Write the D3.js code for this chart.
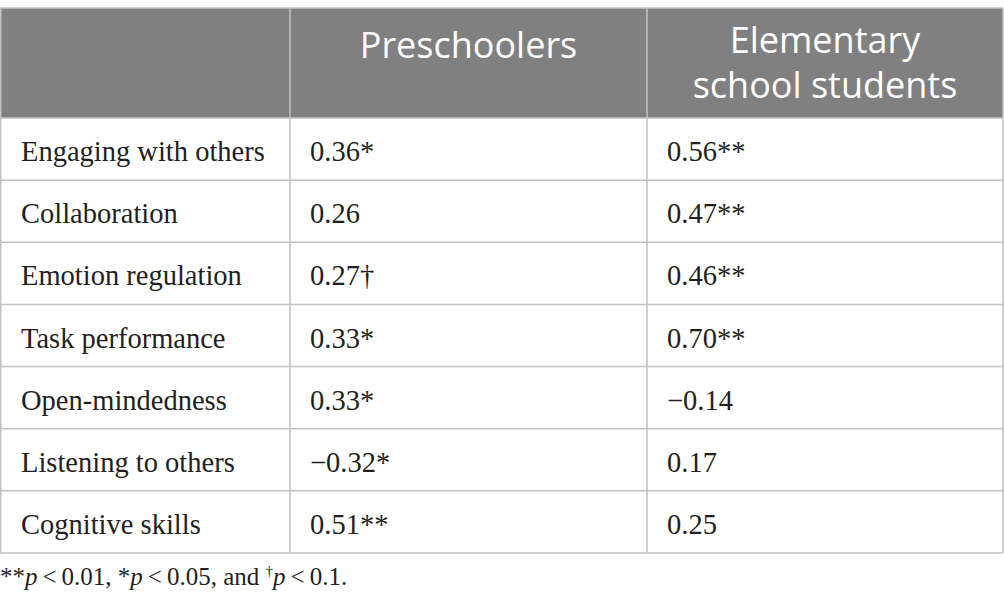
<!DOCTYPE html>
<html>
<head>
<meta charset="utf-8">
<script src="https://cdn.jsdelivr.net/npm/d3@7"></script>
<style>
  body { margin: 0; background: #fff; }
  svg { display: block; }
</style>
</head>
<body>
<div id="wrapper"></div>
<script>
// table data
const groups = ["Preschoolers", "Elementary school students"]
const headerLines = [["Preschoolers"], ["Elementary", "school students"]]
const skills = [
  "Engaging with others",
  "Collaboration",
  "Emotion regulation",
  "Task performance",
  "Open-mindedness",
  "Listening to others",
  "Cognitive skills"
]
const preschoolValues = [0.36, 0.26, 0.27, 0.33, 0.33, -0.32, 0.51]
const preschoolSig = ["*", "", "†", "*", "*", "*", "**"]
const elementaryValues = [0.56, 0.47, 0.46, 0.70, -0.14, 0.17, 0.25]
const elementarySig = ["**", "**", "**", "**", "", "", ""]

const width = 1004
const height = 612
const headerTop = 8
const headerBottom = 118
const tableBottom = 553
const colEdges = [0, 290, 647, 1003]

const fmt = d3.format(".2f")
const serif = "'Liberation Serif', 'DejaVu Serif', serif"
const sans = "'Open Sans', 'Noto Sans', sans-serif"
const borderColor = "#c2c2c2"
const textColor = "#231f20"
const cellSize = 28.5

const svg = d3.select("#wrapper")
  .append("svg")
  .attr("width", width)
  .attr("height", height)

const yScale = d3.scaleBand()
  .domain(skills)
  .range([headerBottom, tableBottom])

const colScale = d3.scaleOrdinal()
  .domain(["label"].concat(groups))
  .range(colEdges.slice(0, 3))

// header band
svg.append("rect")
  .attr("x", colEdges[0])
  .attr("y", headerTop)
  .attr("width", colEdges[3] - colEdges[0])
  .attr("height", headerBottom - headerTop)
  .attr("fill", "#808080")

// header text
const header = svg.selectAll(".header").data(groups)
  .enter().append("text")
  .attr("class", "header")
  .attr("text-anchor", "middle")
  .attr("font-family", sans)
  .attr("font-size", 36)
  .attr("fill", "#fff")

header.each(function(g, i) {
  const lines = headerLines[i]
  const cx = (colEdges[i + 1] + colEdges[i + 2]) / 2
  const firstBaseline = lines.length == 1 ? 58 : 53
  d3.select(this).selectAll("tspan").data(lines)
    .enter().append("tspan")
    .attr("x", cx)
    .attr("y", (d, j) => firstBaseline + j * 45)
    .text(d => d)
})

// row lines
svg.selectAll(".rowline").data(skills)
  .enter().append("line")
  .attr("class", "rowline")
  .attr("x1", colEdges[0])
  .attr("x2", colEdges[3])
  .attr("y1", d => yScale(d) + yScale.bandwidth())
  .attr("y2", d => yScale(d) + yScale.bandwidth())
  .attr("stroke", borderColor)
  .attr("stroke-width", 1.5)

// column lines and outer border
svg.selectAll(".colline").data(colEdges)
  .enter().append("line")
  .attr("class", "colline")
  .attr("x1", d => d + (d == 0 ? 0.75 : 0))
  .attr("x2", d => d + (d == 0 ? 0.75 : 0))
  .attr("y1", headerTop)
  .attr("y2", tableBottom)
  .attr("stroke", borderColor)
  .attr("stroke-width", 1.5)

svg.append("line")
  .attr("x1", colEdges[0])
  .attr("x2", colEdges[3])
  .attr("y1", headerTop)
  .attr("y2", headerTop)
  .attr("stroke", borderColor)
  .attr("stroke-width", 1.5)

svg.append("line")
  .attr("x1", colEdges[0])
  .attr("x2", colEdges[3])
  .attr("y1", headerBottom)
  .attr("y2", headerBottom)
  .attr("stroke", borderColor)
  .attr("stroke-width", 1.5)

// cells
const rowBaseline = d => yScale(d) + yScale.bandwidth() / 2 + 12

svg.selectAll(".label").data(skills)
  .enter().append("text")
  .attr("class", "label")
  .attr("x", colScale("label") + 21)
  .attr("y", rowBaseline)
  .attr("font-family", serif)
  .attr("font-size", cellSize)
  .attr("fill", textColor)
  .text(d => d)

svg.selectAll(".pre").data(skills)
  .enter().append("text")
  .attr("class", "pre")
  .attr("x", colScale(groups[0]) + 20)
  .attr("y", rowBaseline)
  .attr("font-family", serif)
  .attr("font-size", cellSize)
  .attr("fill", textColor)
  .text((d, i) => fmt(preschoolValues[i]) + preschoolSig[i])

svg.selectAll(".elem").data(skills)
  .enter().append("text")
  .attr("class", "elem")
  .attr("x", colScale(groups[1]) + 20)
  .attr("y", rowBaseline)
  .attr("font-family", serif)
  .attr("font-size", cellSize)
  .attr("fill", textColor)
  .text((d, i) => fmt(elementaryValues[i]) + elementarySig[i])

// footnote
const note = svg.append("text")
  .attr("x", 0)
  .attr("y", 585)
  .attr("font-family", serif)
  .attr("font-size", 25)
  .attr("fill", textColor)

note.append("tspan").text("**")
note.append("tspan").attr("font-style", "italic").text("p")
note.append("tspan").text("\u2009<\u20090.01, *")
note.append("tspan").attr("font-style", "italic").text("p")
note.append("tspan").text("\u2009<\u20090.05, and ")
note.append("tspan").attr("font-size", 15).attr("dy", -9).text("†")
note.append("tspan").attr("font-style", "italic").attr("dy", 9).text("p")
note.append("tspan").text("\u2009<\u20090.1.")
</script>
</body>
</html>
